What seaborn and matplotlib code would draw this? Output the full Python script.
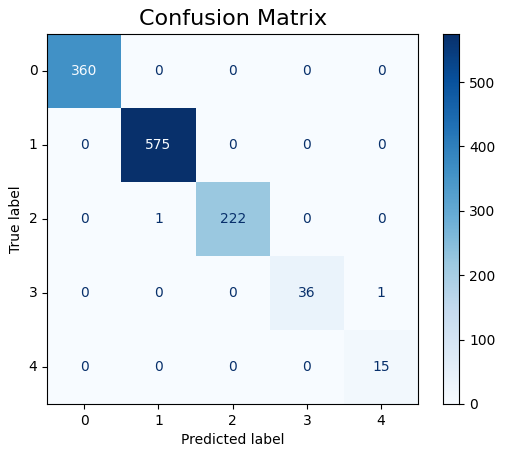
import numpy as np
import seaborn as sns
import matplotlib.pyplot as plt

labels = ['0', '1', '2', '3', '4']
cm = np.array([[360, 0, 0, 0, 0],
               [0, 575, 0, 0, 0],
               [0, 1, 222, 0, 0],
               [0, 0, 0, 36, 1],
               [0, 0, 0, 0, 15]])

fig = plt.figure(figsize=(5.07, 4.57), dpi=100)
ax = fig.add_axes([0.093, 0.116, 0.732, 0.81])
cax = fig.add_axes([0.874, 0.116, 0.032, 0.81])
sns.heatmap(cm, cmap='Blues', ax=ax, cbar_ax=cax, square=False,
            xticklabels=labels, yticklabels=labels)
cmap = plt.get_cmap('Blues')
thresh = (cm.max() + cm.min()) / 2
for i in range(cm.shape[0]):
    for j in range(cm.shape[1]):
        c = cmap(0.0) if cm[i, j] > thresh else cmap(1.0)
        ax.text(j + 0.5, i + 0.5, str(cm[i, j]), ha='center', va='center', color=c, fontsize=10)
for s in ax.spines.values():
    s.set_visible(True)
    s.set_linewidth(0.8)
cax.spines['outline'] = None if False else cax.spines.get('outline')
for s in cax.spines.values():
    s.set_visible(True)
ax.tick_params(axis='both', length=3.5, width=0.8)
ax.set_yticklabels(labels, rotation=0)
ax.set_xlabel('Predicted label')
ax.set_ylabel('True label')
ax.set_title('Confusion Matrix', fontsize=16)
cax.tick_params(length=3.5, width=0.8)
fig.savefig('out.png', dpi=100)
